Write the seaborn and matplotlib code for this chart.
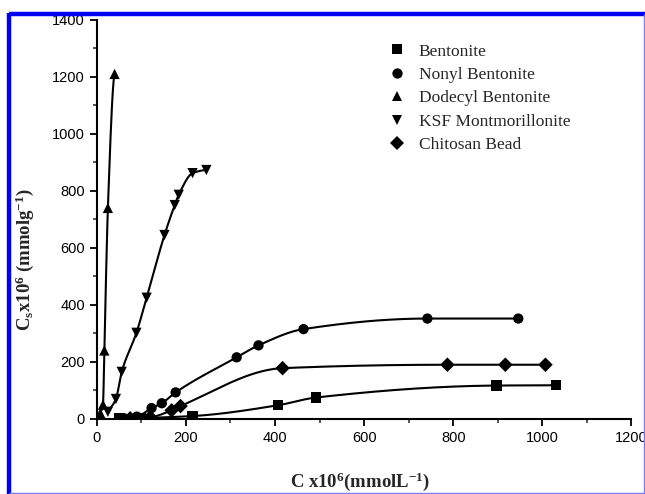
import numpy as np
import pandas as pd
import matplotlib
matplotlib.use("Agg")
import matplotlib.pyplot as plt
import seaborn as sns
from matplotlib.lines import Line2D
from matplotlib.ticker import MultipleLocator

# data (C x10^6 in mmol/L, Cs x10^6 in mmol/g)
bent_x = [50, 100, 215, 407, 492, 897, 1031]
bent_y = [1, 3, 10, 48, 75, 117, 118]

nonyl_x = [60, 90, 123, 146, 177, 314, 363, 464, 742, 946]
nonyl_y = [3, 8, 38, 55, 93, 216, 258, 315, 352, 352]

dodecyl_x = [8, 14, 17, 25, 40]
dodecyl_y = [20, 50, 240, 740, 1210]

ksf_x = [25, 43, 56, 89, 112, 152, 175, 184, 215, 246]
ksf_y = [25, 70, 165, 302, 425, 645, 750, 786, 862, 873]

chit_x = [75, 120, 168, 188, 417, 787, 917, 1007]
chit_y = [2, 6, 30, 45, 178, 190, 190, 190]

names = ["Bentonite", "Nonyl Bentonite", "Dodecyl Bentonite",
         "KSF Montmorillonite", "Chitosan Bead"]
series = [(bent_x, bent_y), (nonyl_x, nonyl_y), (dodecyl_x, dodecyl_y),
          (ksf_x, ksf_y), (chit_x, chit_y)]
marker_map = dict(zip(names, ["s", "o", "^", "v", "D"]))


def pchip(x, y, n=300):
    # monotone cubic (Fritsch-Carlson) for a smooth line through the points
    x = np.asarray(x, float)
    y = np.asarray(y, float)
    h = np.diff(x)
    d = np.diff(y) / h
    m = np.zeros_like(x)
    for k in range(1, len(x) - 1):
        if d[k - 1] * d[k] > 0:
            w1 = 2 * h[k] + h[k - 1]
            w2 = h[k] + 2 * h[k - 1]
            m[k] = (w1 + w2) / (w1 / d[k - 1] + w2 / d[k])
    m[0] = d[0]
    m[-1] = d[-1] * 0.2
    xs = np.linspace(x[0], x[-1], n)
    idx = np.clip(np.searchsorted(x, xs) - 1, 0, len(x) - 2)
    t = (xs - x[idx]) / h[idx]
    h00 = 2 * t**3 - 3 * t**2 + 1
    h10 = t**3 - 2 * t**2 + t
    h01 = -2 * t**3 + 3 * t**2
    h11 = t**3 - t**2
    ys = h00 * y[idx] + h10 * h[idx] * m[idx] + h01 * y[idx + 1] + h11 * h[idx] * m[idx + 1]
    return xs, ys


rows = []
for name, (xs, ys) in zip(names, series):
    for a, b in zip(xs, ys):
        rows.append({"C": a, "Cs": b, "material": name})
df = pd.DataFrame(rows)

sns.set_style("ticks")
plt.rcParams["font.family"] = ["Liberation Sans", "DejaVu Sans"]
plt.rcParams["mathtext.default"] = "regular"

fig = plt.figure(figsize=(6.45, 4.94), dpi=100)
ax = fig.add_axes([0.150, 0.152, 0.829, 0.808])

# smooth curves
for name, (xs, ys) in zip(names, series):
    cx, cy = pchip(xs, ys)
    sns.lineplot(x=cx, y=cy, ax=ax, color="black", lw=1.5,
                 estimator=None, sort=False, legend=False)

sns.scatterplot(data=df, x="C", y="Cs", style="material", markers=marker_map,
                style_order=names, color="black", s=55, edgecolor="black",
                linewidth=0, ax=ax, zorder=5)

ax.set_xlim(0, 1200)
ax.set_ylim(0, 1400)
ax.xaxis.set_major_locator(MultipleLocator(200))
ax.xaxis.set_minor_locator(MultipleLocator(100))
ax.yaxis.set_major_locator(MultipleLocator(200))
ax.yaxis.set_minor_locator(MultipleLocator(100))
ax.tick_params(which="major", direction="out", length=5, width=1.3,
               labelsize=10.5, colors="black")
ax.tick_params(which="minor", direction="out", length=3, width=1.1)
for s in ["top", "right"]:
    ax.spines[s].set_visible(False)
for s in ["left", "bottom"]:
    ax.spines[s].set_linewidth(1.5)
    ax.spines[s].set_color("black")

ax.set_xlabel(r"C x10$^{6}$(mmolL$^{-1}$)", family="Liberation Serif",
              fontweight="bold", fontsize=13.5)
ax.xaxis.set_label_coords(0.492, -0.128)
ax.set_ylabel(r"C$_{s}$x10$^{6}$ (mmolg$^{-1}$)", family="Liberation Serif",
              fontweight="bold", fontsize=13.5)
ax.yaxis.set_label_coords(-0.113, 0.40)

leg = ax.legend(loc="upper left", bbox_to_anchor=(0.50, 0.98), frameon=False,
                handletextpad=0.25, labelspacing=0.42,
                prop={"family": "Liberation Serif", "size": 12.5})

# blue frame: heavy on top and left, thin on right and bottom
frame = dict(transform=fig.transFigure, zorder=10, solid_capstyle="butt")
fig.add_artist(Line2D([9 / 645, 1], [1 - 14.5 / 494, 1 - 14.5 / 494],
                      color="#0000ee", lw=3.2, **frame))
fig.add_artist(Line2D([9 / 645, 9 / 645], [0, 1 - 13 / 494],
                      color="#0000ee", lw=3.2, **frame))
fig.add_artist(Line2D([643.5 / 645, 643.5 / 645], [0, 1 - 14.5 / 494],
                      color="#7b7bff", lw=1.0, **frame))
fig.add_artist(Line2D([9 / 645, 1], [1.5 / 494, 1.5 / 494],
                      color="#7b7bff", lw=1.0, **frame))

fig.savefig("out.png", dpi=100)
